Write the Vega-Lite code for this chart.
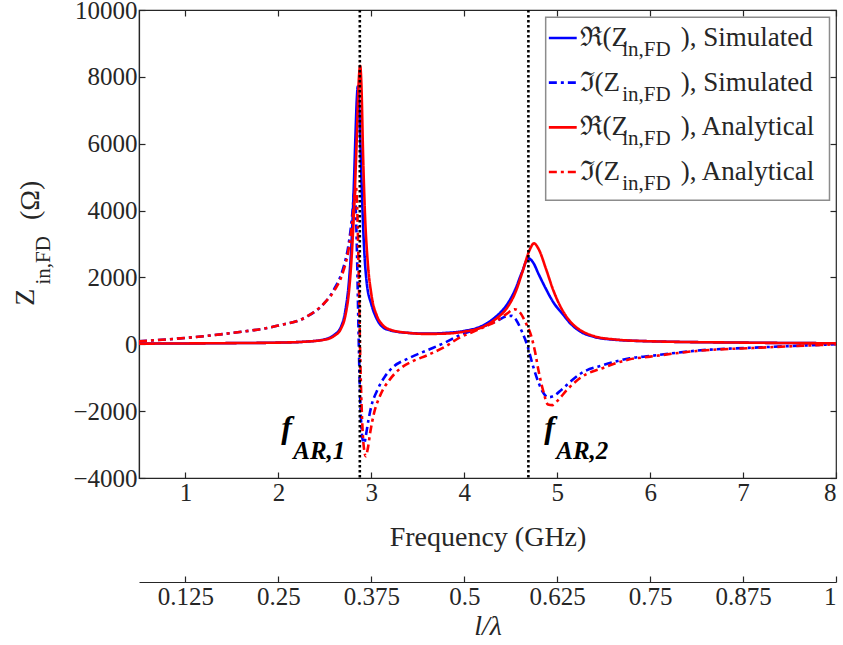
{
  "$schema": "https://vega.github.io/schema/vega-lite/v6.json",
  "width": 697,
  "height": 468,
  "autosize": {"type": "none"},
  "padding": {"left": 139, "top": 10, "right": 7, "bottom": 167},
  "background": "white",
  "config": {"font": "Liberation Serif", "view": {"stroke": "#262626", "strokeWidth": 1.2}},
  "datasets": {
    "curves": [
      {"f":0.5,"z":20,"s":"Re, Simulated"},{"f":1,"z":25,"s":"Re, Simulated"},{"f":1.5,"z":35,"s":"Re, Simulated"},{"f":2,"z":50,"s":"Re, Simulated"},{"f":2.3,"z":80,"s":"Re, Simulated"},{"f":2.5,"z":150,"s":"Re, Simulated"},{"f":2.6,"z":280,"s":"Re, Simulated"},{"f":2.67,"z":500,"s":"Re, Simulated"},{"f":2.72,"z":1000,"s":"Re, Simulated"},{"f":2.76,"z":1900,"s":"Re, Simulated"},{"f":2.79,"z":3200,"s":"Re, Simulated"},{"f":2.81,"z":4600,"s":"Re, Simulated"},{"f":2.83,"z":6300,"s":"Re, Simulated"},{"f":2.845,"z":7400,"s":"Re, Simulated"},{"f":2.855,"z":7720,"s":"Re, Simulated"},{"f":2.865,"z":7400,"s":"Re, Simulated"},{"f":2.88,"z":6200,"s":"Re, Simulated"},{"f":2.9,"z":4400,"s":"Re, Simulated"},{"f":2.92,"z":3000,"s":"Re, Simulated"},{"f":2.95,"z":1850,"s":"Re, Simulated"},{"f":3.0,"z":1200,"s":"Re, Simulated"},{"f":3.06,"z":750,"s":"Re, Simulated"},{"f":3.12,"z":520,"s":"Re, Simulated"},{"f":3.2,"z":420,"s":"Re, Simulated"},{"f":3.4,"z":340,"s":"Re, Simulated"},{"f":3.6,"z":320,"s":"Re, Simulated"},{"f":3.8,"z":340,"s":"Re, Simulated"},{"f":4.0,"z":400,"s":"Re, Simulated"},{"f":4.2,"z":560,"s":"Re, Simulated"},{"f":4.35,"z":850,"s":"Re, Simulated"},{"f":4.45,"z":1150,"s":"Re, Simulated"},{"f":4.55,"z":1650,"s":"Re, Simulated"},{"f":4.62,"z":2150,"s":"Re, Simulated"},{"f":4.69,"z":2570,"s":"Re, Simulated"},{"f":4.74,"z":2450,"s":"Re, Simulated"},{"f":4.8,"z":2100,"s":"Re, Simulated"},{"f":4.88,"z":1650,"s":"Re, Simulated"},{"f":4.96,"z":1250,"s":"Re, Simulated"},{"f":5.06,"z":900,"s":"Re, Simulated"},{"f":5.15,"z":600,"s":"Re, Simulated"},{"f":5.25,"z":380,"s":"Re, Simulated"},{"f":5.4,"z":220,"s":"Re, Simulated"},{"f":5.6,"z":140,"s":"Re, Simulated"},{"f":6,"z":90,"s":"Re, Simulated"},{"f":7,"z":50,"s":"Re, Simulated"},{"f":8,"z":30,"s":"Re, Simulated"},
      {"f":0.5,"z":90,"s":"Im, Simulated"},{"f":1,"z":190,"s":"Im, Simulated"},{"f":1.5,"z":340,"s":"Im, Simulated"},{"f":2,"z":560,"s":"Im, Simulated"},{"f":2.3,"z":820,"s":"Im, Simulated"},{"f":2.5,"z":1250,"s":"Im, Simulated"},{"f":2.6,"z":1650,"s":"Im, Simulated"},{"f":2.7,"z":2300,"s":"Im, Simulated"},{"f":2.75,"z":2900,"s":"Im, Simulated"},{"f":2.78,"z":3500,"s":"Im, Simulated"},{"f":2.8,"z":4050,"s":"Im, Simulated"},{"f":2.815,"z":4550,"s":"Im, Simulated"},{"f":2.83,"z":4200,"s":"Im, Simulated"},{"f":2.845,"z":2800,"s":"Im, Simulated"},{"f":2.86,"z":700,"s":"Im, Simulated"},{"f":2.875,"z":-1200,"s":"Im, Simulated"},{"f":2.89,"z":-2300,"s":"Im, Simulated"},{"f":2.91,"z":-2900,"s":"Im, Simulated"},{"f":2.925,"z":-2960,"s":"Im, Simulated"},{"f":2.94,"z":-2750,"s":"Im, Simulated"},{"f":2.97,"z":-2250,"s":"Im, Simulated"},{"f":3.0,"z":-1850,"s":"Im, Simulated"},{"f":3.06,"z":-1400,"s":"Im, Simulated"},{"f":3.15,"z":-950,"s":"Im, Simulated"},{"f":3.23,"z":-690,"s":"Im, Simulated"},{"f":3.4,"z":-420,"s":"Im, Simulated"},{"f":3.6,"z":-180,"s":"Im, Simulated"},{"f":3.8,"z":60,"s":"Im, Simulated"},{"f":3.95,"z":270,"s":"Im, Simulated"},{"f":4.1,"z":420,"s":"Im, Simulated"},{"f":4.25,"z":580,"s":"Im, Simulated"},{"f":4.35,"z":700,"s":"Im, Simulated"},{"f":4.46,"z":840,"s":"Im, Simulated"},{"f":4.51,"z":850,"s":"Im, Simulated"},{"f":4.56,"z":720,"s":"Im, Simulated"},{"f":4.62,"z":380,"s":"Im, Simulated"},{"f":4.68,"z":-50,"s":"Im, Simulated"},{"f":4.74,"z":-650,"s":"Im, Simulated"},{"f":4.8,"z":-1150,"s":"Im, Simulated"},{"f":4.85,"z":-1450,"s":"Im, Simulated"},{"f":4.9,"z":-1585,"s":"Im, Simulated"},{"f":4.96,"z":-1550,"s":"Im, Simulated"},{"f":5.05,"z":-1350,"s":"Im, Simulated"},{"f":5.15,"z":-1100,"s":"Im, Simulated"},{"f":5.25,"z":-880,"s":"Im, Simulated"},{"f":5.5,"z":-620,"s":"Im, Simulated"},{"f":5.78,"z":-420,"s":"Im, Simulated"},{"f":6,"z":-350,"s":"Im, Simulated"},{"f":6.5,"z":-190,"s":"Im, Simulated"},{"f":7.2,"z":-90,"s":"Im, Simulated"},{"f":8,"z":0,"s":"Im, Simulated"},
      {"f":0.5,"z":20,"s":"Re, Analytical"},{"f":1,"z":25,"s":"Re, Analytical"},{"f":1.5,"z":35,"s":"Re, Analytical"},{"f":2,"z":50,"s":"Re, Analytical"},{"f":2.3,"z":80,"s":"Re, Analytical"},{"f":2.5,"z":140,"s":"Re, Analytical"},{"f":2.6,"z":250,"s":"Re, Analytical"},{"f":2.67,"z":450,"s":"Re, Analytical"},{"f":2.72,"z":850,"s":"Re, Analytical"},{"f":2.76,"z":1600,"s":"Re, Analytical"},{"f":2.79,"z":2700,"s":"Re, Analytical"},{"f":2.82,"z":4400,"s":"Re, Analytical"},{"f":2.845,"z":6300,"s":"Re, Analytical"},{"f":2.865,"z":7900,"s":"Re, Analytical"},{"f":2.88,"z":8330,"s":"Re, Analytical"},{"f":2.895,"z":7600,"s":"Re, Analytical"},{"f":2.91,"z":5800,"s":"Re, Analytical"},{"f":2.93,"z":4000,"s":"Re, Analytical"},{"f":2.96,"z":2500,"s":"Re, Analytical"},{"f":3.0,"z":1500,"s":"Re, Analytical"},{"f":3.06,"z":850,"s":"Re, Analytical"},{"f":3.12,"z":580,"s":"Re, Analytical"},{"f":3.2,"z":440,"s":"Re, Analytical"},{"f":3.4,"z":340,"s":"Re, Analytical"},{"f":3.6,"z":310,"s":"Re, Analytical"},{"f":3.8,"z":320,"s":"Re, Analytical"},{"f":4.0,"z":380,"s":"Re, Analytical"},{"f":4.2,"z":520,"s":"Re, Analytical"},{"f":4.35,"z":780,"s":"Re, Analytical"},{"f":4.45,"z":1050,"s":"Re, Analytical"},{"f":4.55,"z":1550,"s":"Re, Analytical"},{"f":4.63,"z":2200,"s":"Re, Analytical"},{"f":4.7,"z":2800,"s":"Re, Analytical"},{"f":4.75,"z":3020,"s":"Re, Analytical"},{"f":4.8,"z":2850,"s":"Re, Analytical"},{"f":4.88,"z":2250,"s":"Re, Analytical"},{"f":4.96,"z":1600,"s":"Re, Analytical"},{"f":5.06,"z":1000,"s":"Re, Analytical"},{"f":5.15,"z":650,"s":"Re, Analytical"},{"f":5.25,"z":420,"s":"Re, Analytical"},{"f":5.4,"z":240,"s":"Re, Analytical"},{"f":5.6,"z":150,"s":"Re, Analytical"},{"f":6,"z":90,"s":"Re, Analytical"},{"f":7,"z":50,"s":"Re, Analytical"},{"f":8,"z":30,"s":"Re, Analytical"},
      {"f":0.5,"z":90,"s":"Im, Analytical"},{"f":1,"z":190,"s":"Im, Analytical"},{"f":1.5,"z":340,"s":"Im, Analytical"},{"f":2,"z":560,"s":"Im, Analytical"},{"f":2.3,"z":820,"s":"Im, Analytical"},{"f":2.5,"z":1250,"s":"Im, Analytical"},{"f":2.6,"z":1600,"s":"Im, Analytical"},{"f":2.7,"z":2200,"s":"Im, Analytical"},{"f":2.75,"z":2750,"s":"Im, Analytical"},{"f":2.78,"z":3300,"s":"Im, Analytical"},{"f":2.8,"z":3800,"s":"Im, Analytical"},{"f":2.82,"z":4400,"s":"Im, Analytical"},{"f":2.835,"z":4700,"s":"Im, Analytical"},{"f":2.85,"z":3900,"s":"Im, Analytical"},{"f":2.865,"z":2000,"s":"Im, Analytical"},{"f":2.88,"z":-300,"s":"Im, Analytical"},{"f":2.9,"z":-2200,"s":"Im, Analytical"},{"f":2.92,"z":-3100,"s":"Im, Analytical"},{"f":2.94,"z":-3350,"s":"Im, Analytical"},{"f":2.96,"z":-3150,"s":"Im, Analytical"},{"f":2.99,"z":-2600,"s":"Im, Analytical"},{"f":3.03,"z":-2050,"s":"Im, Analytical"},{"f":3.1,"z":-1500,"s":"Im, Analytical"},{"f":3.2,"z":-1050,"s":"Im, Analytical"},{"f":3.3,"z":-750,"s":"Im, Analytical"},{"f":3.45,"z":-500,"s":"Im, Analytical"},{"f":3.6,"z":-330,"s":"Im, Analytical"},{"f":3.8,"z":-60,"s":"Im, Analytical"},{"f":3.95,"z":200,"s":"Im, Analytical"},{"f":4.1,"z":380,"s":"Im, Analytical"},{"f":4.25,"z":560,"s":"Im, Analytical"},{"f":4.35,"z":700,"s":"Im, Analytical"},{"f":4.46,"z":920,"s":"Im, Analytical"},{"f":4.54,"z":1050,"s":"Im, Analytical"},{"f":4.6,"z":950,"s":"Im, Analytical"},{"f":4.66,"z":650,"s":"Im, Analytical"},{"f":4.72,"z":250,"s":"Im, Analytical"},{"f":4.76,"z":-200,"s":"Im, Analytical"},{"f":4.8,"z":-800,"s":"Im, Analytical"},{"f":4.85,"z":-1400,"s":"Im, Analytical"},{"f":4.9,"z":-1800,"s":"Im, Analytical"},{"f":4.95,"z":-1820,"s":"Im, Analytical"},{"f":5.0,"z":-1700,"s":"Im, Analytical"},{"f":5.1,"z":-1380,"s":"Im, Analytical"},{"f":5.25,"z":-1000,"s":"Im, Analytical"},{"f":5.5,"z":-700,"s":"Im, Analytical"},{"f":5.78,"z":-450,"s":"Im, Analytical"},{"f":6,"z":-370,"s":"Im, Analytical"},{"f":6.5,"z":-200,"s":"Im, Analytical"},{"f":7.2,"z":-100,"s":"Im, Analytical"},{"f":8,"z":0,"s":"Im, Analytical"}
    ],
    "legend": [
      {"s":"Re, Simulated","a":"ℜ(Z","b":"in,FD","c":"), Simulated"},
      {"s":"Im, Simulated","a":"ℑ(Z","b":"in,FD","c":"), Simulated"},
      {"s":"Re, Analytical","a":"ℜ(Z","b":"in,FD","c":"), Analytical"},
      {"s":"Im, Analytical","a":"ℑ(Z","b":"in,FD","c":"), Analytical"}
    ],
    "markers": [{"f":2.876,"name":"f_AR,1"},{"f":4.69,"name":"f_AR,2"}],
    "one": [{"k": 1}]
  },
  "resolve": {"scale": {"x": "independent", "y": "independent"}},
  "layer": [
    {
      "layer": [
        {
          "data": {"name": "curves"},
          "mark": {"type": "line", "strokeWidth": 2.6, "interpolate": "monotone", "clip": true},
          "encoding": {
            "x": {"field": "f", "type": "quantitative", "scale": {"domain": [0.5, 8], "nice": false, "zero": false},
                  "axis": {"values": [1,2,3,4,5,6,7,8], "format": "d", "grid": false, "tickSize": -6, "tickColor": "#262626", "tickWidth": 1.2, "domainColor": "#262626", "domainWidth": 1.2, "labelPadding": 8, "labelFont": "Liberation Serif", "labelFontSize": 25, "labelColor": "#262626", "title": "Frequency (GHz)", "titleFont": "Liberation Serif", "titleFontSize": 28, "titleFontWeight": "normal", "titleColor": "#262626", "titlePadding": 18}},
            "y": {"field": "z", "type": "quantitative", "scale": {"domain": [-4000, 10000], "nice": false, "zero": false},
                  "axis": {"values": [-4000,-2000,0,2000,4000,6000,8000,10000], "format": "d", "grid": false, "tickSize": -6, "tickColor": "#262626", "tickWidth": 1.2, "domainColor": "#262626", "domainWidth": 1.2, "labelPadding": 8, "labelFont": "Liberation Serif", "labelFontSize": 25, "labelColor": "#262626", "title": null}},
            "color": {"field": "s", "type": "nominal", "legend": null,
                      "scale": {"domain": ["Re, Simulated","Im, Simulated","Re, Analytical","Im, Analytical"], "range": ["#0000ff","#0000ff","#ff0000","#ff0000"]}},
            "strokeDash": {"field": "s", "type": "nominal", "legend": null,
                      "scale": {"domain": ["Re, Simulated","Im, Simulated","Re, Analytical","Im, Analytical"], "range": [[1,0],[8,4,3,4],[1,0],[8,4,3,4]]}}
          }
        },
        {
          "data": {"name": "markers"},
          "mark": {"type": "rule", "color": "black", "strokeWidth": 2.6, "strokeDash": [2.5, 2.5]},
          "encoding": {"x": {"field": "f", "type": "quantitative"}}
        },
        {"data": {"name": "one"},
         "mark": {"type":"text","text":"f","font":"Liberation Serif","fontStyle":"italic","fontWeight":"bold","fontSize":32,"align":"left","baseline":"middle","color":"black"},
         "encoding": {"x": {"datum": 2.03}, "y": {"datum": -2500}}},
        {"data": {"name": "one"},
         "mark": {"type":"text","text":"AR,1","font":"Liberation Serif","fontStyle":"italic","fontWeight":"bold","fontSize":25,"align":"left","baseline":"middle","color":"black"},
         "encoding": {"x": {"datum": 2.16}, "y": {"datum": -3200}}},
        {"data": {"name": "one"},
         "mark": {"type":"text","text":"f","font":"Liberation Serif","fontStyle":"italic","fontWeight":"bold","fontSize":32,"align":"left","baseline":"middle","color":"black"},
         "encoding": {"x": {"datum": 4.86}, "y": {"datum": -2500}}},
        {"data": {"name": "one"},
         "mark": {"type":"text","text":"AR,2","font":"Liberation Serif","fontStyle":"italic","fontWeight":"bold","fontSize":25,"align":"left","baseline":"middle","color":"black"},
         "encoding": {"x": {"datum": 4.99}, "y": {"datum": -3200}}},
        {"data": {"name": "one"},
         "mark": {"type":"text","text":"Z","font":"Liberation Serif","fontSize":28,"angle":270,"align":"center","baseline":"middle","dy":-113,"color":"#262626"},
         "encoding": {"x": {"datum": 0.5}, "y": {"datum": 1406}}},
        {"data": {"name": "one"},
         "mark": {"type":"text","text":"in,FD","font":"Liberation Serif","fontSize":21,"angle":270,"align":"center","baseline":"middle","dy":-95,"color":"#262626"},
         "encoding": {"x": {"datum": 0.5}, "y": {"datum": 2512}}},
        {"data": {"name": "one"},
         "mark": {"type":"text","text":"(Ω)","font":"Liberation Serif","fontSize":28,"angle":270,"align":"center","baseline":"middle","dy":-108,"color":"#262626"},
         "encoding": {"x": {"datum": 0.5}, "y": {"datum": 4307}}},
        {"data": {"name": "one"},
         "mark": {"type":"rect","fill":"white","stroke":"#8c8c8c","strokeWidth":1.5},
         "encoding": {"x": {"datum": 4.876}, "x2": {"datum": 7.93}, "y": {"datum": 9781}, "y2": {"datum": 4307}}}
      ]
    },
    {
      "data": {"name": "legend"},
      "encoding": {
        "y": {"field": "s", "type": "ordinal", "axis": null,
              "scale": {"type": "point", "domain": ["Re, Simulated","Im, Simulated","Re, Analytical","Im, Analytical"], "range": [28, 162], "padding": 0}}
      },
      "layer": [
        {"mark": {"type": "rule", "strokeWidth": 2.6},
         "encoding": {
           "x": {"datum": 4.91, "type": "quantitative", "scale": {"domain": [0.5, 8], "nice": false, "zero": false}, "axis": null},
           "x2": {"datum": 5.21},
           "color": {"field": "s", "type": "nominal", "legend": null},
           "strokeDash": {"field": "s", "type": "nominal", "legend": null}}},
        {"mark": {"type":"text","align":"left","baseline":"middle","fontSize":27,"font":"Liberation Serif","color":"#262626"},
         "encoding": {"x": {"datum": 5.24}, "text": {"field": "a"}}},
        {"mark": {"type":"text","align":"left","baseline":"middle","fontSize":21,"dy":12,"font":"Liberation Serif","color":"#262626"},
         "encoding": {"x": {"datum": 5.70}, "text": {"field": "b"}}},
        {"mark": {"type":"text","align":"left","baseline":"middle","fontSize":27,"font":"Liberation Serif","color":"#262626"},
         "encoding": {"x": {"datum": 6.33}, "text": {"field": "c"}}}
      ]
    },
    {
      "data": {"values": [{"ratio": 0.0625}, {"ratio": 1}]},
      "mark": {"type": "point", "opacity": 0},
      "encoding": {
        "x": {"field": "ratio", "type": "quantitative", "scale": {"domain": [0.0625, 1], "nice": false, "zero": false},
              "axis": {"orient": "bottom", "offset": 104, "values": [0.125,0.25,0.375,0.5,0.625,0.75,0.875,1], "labelExpr": "format(datum.value, '.4~g')", "grid": false, "tickSize": -6, "tickColor": "#262626", "tickWidth": 1.2, "domainColor": "#262626", "domainWidth": 1.2, "labelPadding": 8, "labelFont": "Liberation Serif", "labelFontSize": 25, "labelColor": "#262626", "title": "l/λ", "titleFont": "Liberation Serif", "titleFontSize": 28, "titleFontWeight": "normal", "titleFontStyle": "italic", "titleColor": "#262626", "titlePadding": 3}}
      }
    },
    {
      "data": {"values": [{"fx": 0.5, "zy": -4000}]},
      "mark": {"type": "point", "opacity": 0},
      "encoding": {
        "x": {"field": "fx", "type": "quantitative", "scale": {"domain": [0.5, 8], "nice": false, "zero": false},
              "axis": {"orient": "top", "values": [1,2,3,4,5,6,7,8], "labels": false, "domain": false, "grid": false, "tickSize": -6, "tickColor": "#262626", "tickWidth": 1.2, "title": null}},
        "y": {"field": "zy", "type": "quantitative", "scale": {"domain": [-4000, 10000], "nice": false, "zero": false},
              "axis": {"orient": "right", "values": [-4000,-2000,0,2000,4000,6000,8000,10000], "labels": false, "domain": false, "grid": false, "tickSize": -6, "tickColor": "#262626", "tickWidth": 1.2, "title": null}}
      }
    }
  ]
}
